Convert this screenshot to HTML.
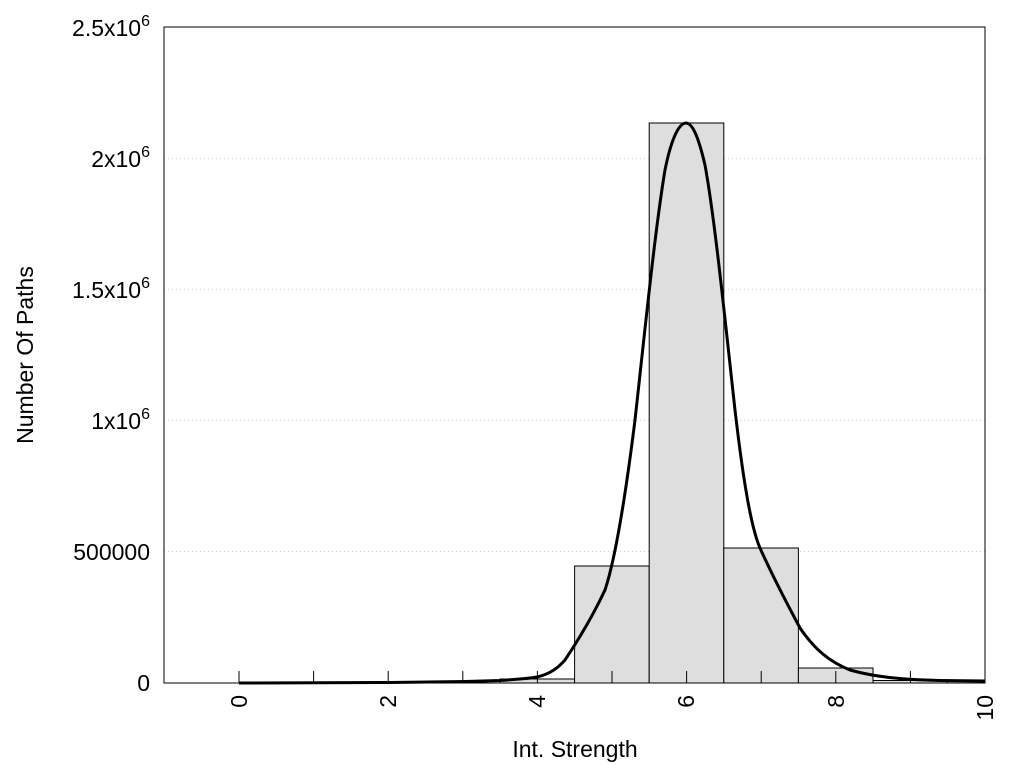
<!DOCTYPE html><html><head><style>body{margin:0;background:#fff}svg{display:block}text{font-family:"Liberation Sans",sans-serif;fill:#000}</style></head><body>
<svg width="1024" height="768" viewBox="0 0 1024 768">
<g stroke="#ccc" stroke-dasharray="1,3" stroke-width="1">
<line x1="164" x2="985" y1="551.5" y2="551.5"/><line x1="164" x2="985" y1="420.5" y2="420.5"/><line x1="164" x2="985" y1="289.5" y2="289.5"/><line x1="164" x2="985" y1="158.5" y2="158.5"/></g>
<g fill="#dedede" stroke="#000" stroke-width="1">
<rect x="500" y="679" width="74.6" height="4"/>
<rect x="574.6" y="566" width="74.6" height="117"/>
<rect x="649.2" y="123" width="74.6" height="560"/>
<rect x="723.8" y="548" width="74.6" height="135"/>
<rect x="798.4" y="668" width="74.6" height="15"/>
<rect x="873" y="680.5" width="74.6" height="2.5"/>
<rect x="947.6" y="681.5" width="37.4" height="1.5"/>
</g>
<g stroke="#000" stroke-width="1">
<line x1="239" x2="239" y1="671" y2="683"/><line x1="313.6" x2="313.6" y1="671" y2="683"/><line x1="388.2" x2="388.2" y1="671" y2="683"/><line x1="462.8" x2="462.8" y1="671" y2="683"/><line x1="537.4" x2="537.4" y1="671" y2="683"/><line x1="612" x2="612" y1="671" y2="683"/><line x1="686.6" x2="686.6" y1="671" y2="683"/><line x1="761.2" x2="761.2" y1="671" y2="683"/><line x1="835.8" x2="835.8" y1="671" y2="683"/><line x1="910.4" x2="910.4" y1="671" y2="683"/>
</g>
<path d="M239,683 L390,682.5 L465,681.5 L500,680.5 C520,679 530,678.5 537,677 C550,674 558,668 565,660 C575,645 590,622 605,590 C615,560 625,500 635,420 C645,330 655,230 665,170 C672,135 680,123 686,123 C692,123 698,135 705,165 C715,220 725,320 735,410 C742,470 750,525 760,548 C772,575 785,600 800,628 C815,650 830,662 850,670 C875,677 900,679.5 940,680.5 L985,681" fill="none" stroke="#000" stroke-width="3"/>
<rect x="164" y="27" width="821" height="656" fill="none" stroke="#000" stroke-width="1"/>
<g font-size="23" text-anchor="end">
<text x="150" y="691">0</text>
<text x="150" y="560">500000</text>
<text x="150" y="429">1x10<tspan font-size="16" dy="-10">6</tspan></text>
<text x="150" y="298">1.5x10<tspan font-size="16" dy="-10">6</tspan></text>
<text x="150" y="167">2x10<tspan font-size="16" dy="-10">6</tspan></text>
<text x="150" y="36">2.5x10<tspan font-size="16" dy="-10">6</tspan></text>
</g>
<g font-size="23" text-anchor="end">
<text transform="translate(247,695) rotate(-90)">0</text>
<text transform="translate(396,695) rotate(-90)">2</text>
<text transform="translate(545,695) rotate(-90)">4</text>
<text transform="translate(694,695) rotate(-90)">6</text>
<text transform="translate(844,695) rotate(-90)">8</text>
<text transform="translate(993,695) rotate(-90)">10</text>
</g>
<text x="575" y="757" font-size="23" text-anchor="middle">Int. Strength</text>
<text transform="translate(33,355) rotate(-90)" font-size="23" text-anchor="middle">Number Of Paths</text>
</svg></body></html>
